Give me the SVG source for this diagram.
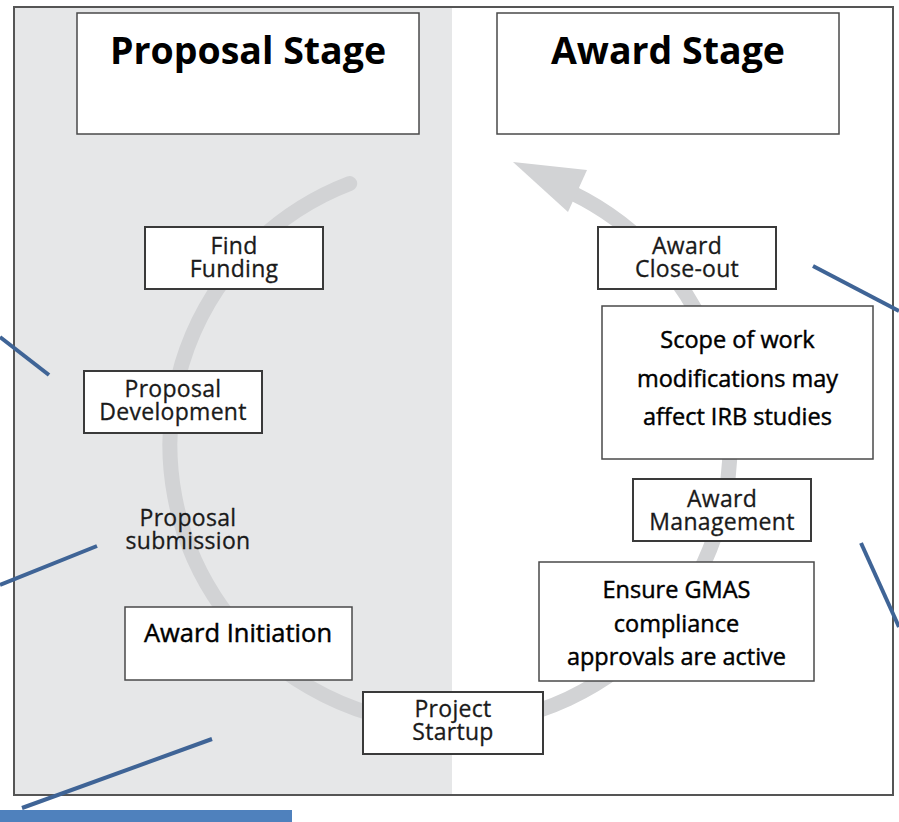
<svg xmlns="http://www.w3.org/2000/svg" width="899" height="822" viewBox="0 0 899 822">
<style>
.box{fill:#ffffff;stroke:#3a3a3a;stroke-width:2}
.tbox{fill:#ffffff;stroke:#4a4a4a;stroke-width:1.5}
.title{font-family:"Open Sans","Liberation Sans",sans-serif;font-weight:700;font-size:37.5px;fill:#000;text-anchor:middle}
.body{font-family:"Open Sans","Liberation Sans",sans-serif;font-weight:400;font-size:23.5px;fill:#000;stroke:#000;stroke-width:0.45;text-anchor:middle}
.lbl{font-family:"Open Sans","Liberation Sans",sans-serif;font-weight:400;font-size:23px;letter-spacing:0.3px;fill:#1a1a1a;stroke:#1a1a1a;stroke-width:0.3;text-anchor:middle}
.blue{stroke:#3f6496;stroke-width:4;fill:none}
</style>
<rect x="0" y="0" width="899" height="822" fill="#ffffff"/>
<rect x="14" y="7" width="438" height="788" fill="#e6e7e8"/>
<g id="cycle">
<path d="M 349.7 183.5 A 280 280 0 1 0 572.7 193.3" fill="none" stroke="#d2d3d5" stroke-width="15" stroke-linecap="round"/>
<polygon points="513,162 587,170 568,212" fill="#d2d3d5"/>
</g>
<g id="proposal-stage">
<rect class="tbox" x="77" y="13" width="342" height="121"/>
<text class="title" x="248" y="64">Proposal Stage</text>
</g>
<g id="award-stage">
<rect class="tbox" x="497" y="13" width="342" height="121"/>
<text class="title" x="668" y="64">Award Stage</text>
</g>
<g id="find-funding">
<rect class="box" x="145" y="227" width="178" height="62"/>
<text class="lbl" x="234" y="254">Find</text>
<text class="lbl" x="234" y="277">Funding</text>
</g>
<g id="proposal-development">
<rect class="box" x="84" y="371" width="178" height="62"/>
<text class="lbl" x="173" y="397">Proposal</text>
<text class="lbl" x="173" y="420">Development</text>
</g>
<g id="proposal-submission">
<text class="lbl" x="188" y="526">Proposal</text>
<text class="lbl" x="188" y="549">submission</text>
</g>
<g id="award-initiation">
<rect class="tbox" x="125" y="607" width="227" height="73"/>
<text class="body" x="238" y="642" style="font-size:25.5px">Award Initiation</text>
</g>
<g id="project-startup">
<rect class="box" x="363" y="692" width="180" height="62"/>
<text class="lbl" x="453" y="717">Project</text>
<text class="lbl" x="453" y="740">Startup</text>
</g>
<g id="award-closeout">
<rect class="box" x="598" y="227" width="178" height="62"/>
<text class="lbl" x="687" y="254">Award</text>
<text class="lbl" x="687" y="277">Close-out</text>
</g>
<g id="scope-note">
<rect class="tbox" x="602" y="306" width="271" height="153"/>
<text class="body" x="737.5" y="348">Scope of work</text>
<text class="body" x="737.5" y="387">modifications may</text>
<text class="body" x="737.5" y="425">affect IRB studies</text>
</g>
<g id="award-management">
<rect class="box" x="633" y="479" width="178" height="62"/>
<text class="lbl" x="722" y="507">Award</text>
<text class="lbl" x="722" y="530">Management</text>
</g>
<g id="gmas-note">
<rect class="tbox" x="539" y="562" width="275" height="119"/>
<text class="body" x="676.5" y="598">Ensure GMAS</text>
<text class="body" x="676.5" y="632">compliance</text>
<text class="body" x="676.5" y="665">approvals are active</text>
</g>
<rect x="14" y="7" width="879" height="788" fill="none" stroke="#555555" stroke-width="2"/>
<g id="connectors">
<line class="blue" x1="0" y1="337" x2="49" y2="375"/>
<line class="blue" x1="0" y1="585" x2="97" y2="546"/>
<line class="blue" x1="22" y1="808" x2="212" y2="739"/>
<line class="blue" x1="813" y1="266" x2="899" y2="311"/>
<line class="blue" x1="861" y1="543" x2="899" y2="627"/>
<rect x="0" y="810" width="292" height="12" fill="#4f81bd"/>
</g>
</svg>
